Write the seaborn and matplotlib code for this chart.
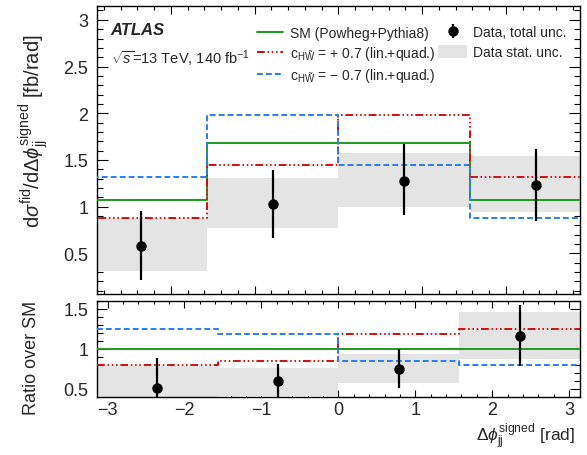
import numpy as np
import pandas as pd
import matplotlib
matplotlib.use("Agg")
import matplotlib.pyplot as plt
from matplotlib.ticker import MultipleLocator, FuncFormatter
from matplotlib.patches import Patch
import seaborn as sns

# ---------------- data ----------------
edges = [-3.1416, -1.5708, 0.0, 1.5708, 3.1416]
centers = [-2.3562, -0.7854, 0.7854, 2.3562]

sm = [1.07, 1.68, 1.68, 1.07]
c_plus = [0.88, 1.45, 1.98, 1.32]
c_minus = [1.32, 1.98, 1.45, 0.88]
data = [0.58, 1.03, 1.28, 1.23]
data_err_up = [0.37, 0.36, 0.39, 0.39]
data_err_dn = [0.36, 0.36, 0.37, 0.38]
stat_lo = [0.31, 0.77, 1.00, 0.94]
stat_hi = [0.88, 1.31, 1.57, 1.54]

r_sm = [1.0, 1.0, 1.0, 1.0]
r_plus = [0.80, 0.85, 1.18, 1.25]
r_minus = [1.24, 1.18, 0.85, 0.80]
r_data = [0.51, 0.59, 0.75, 1.16]
r_err_up = [0.37, 0.22, 0.24, 0.39]
r_err_dn = [0.36, 0.22, 0.24, 0.38]
r_stat_lo = [0.29, 0.41, 0.57, 0.87]
r_stat_hi = [0.78, 0.76, 0.93, 1.46]

# ---------------- style ----------------
sns.set_theme(style="ticks")
plt.rcParams["font.family"] = ["Liberation Sans", "DejaVu Sans"]
plt.rcParams["mathtext.fontset"] = "custom"
plt.rcParams["mathtext.rm"] = "Liberation Sans"
plt.rcParams["mathtext.it"] = "Liberation Sans:italic"
plt.rcParams["mathtext.bf"] = "Liberation Sans:bold"
plt.rcParams["axes.linewidth"] = 1.0
plt.rcParams["axes.edgecolor"] = "black"

GREEN = "#1e9a1e"
RED = "#cc1010"
BLUE = "#2a7cf0"
GRAY = "#e4e4e4"
LW = 1.4
RED_LS = (0, (4, 1.4, 0.8, 1.4, 0.8, 1.4, 0.8, 1.4))
BLUE_LS = (0, (3, 1.6))

fig = plt.figure(figsize=(5.87, 4.56), dpi=100)
ax1 = fig.add_axes([0.1647, 0.352, 0.8234, 0.632])
ax2 = fig.add_axes([0.1647, 0.1265, 0.8234, 0.2119])


def step_df(vals):
    return pd.DataFrame({"x": edges, "y": list(vals) + [vals[-1]]})


def draw_panel(ax, s, p, m, d, eu, ed, lo, hi):
    widths = [edges[i + 1] - edges[i] for i in range(len(centers))]
    ax.bar(centers, [h - l for h, l in zip(hi, lo)], bottom=lo, width=widths,
           color=GRAY, linewidth=0, zorder=1)
    sns.lineplot(data=step_df(s), x="x", y="y", ax=ax, color=GREEN, lw=LW,
                 drawstyle="steps-post", zorder=3)
    h_sm = ax.get_lines()[-1]
    sns.lineplot(data=step_df(p), x="x", y="y", ax=ax, color=RED, lw=LW,
                 drawstyle="steps-post", linestyle=RED_LS, zorder=4)
    h_p = ax.get_lines()[-1]
    sns.lineplot(data=step_df(m), x="x", y="y", ax=ax, color=BLUE, lw=LW,
                 drawstyle="steps-post", linestyle=BLUE_LS, zorder=4)
    h_m = ax.get_lines()[-1]
    h_d = ax.errorbar(centers, d, yerr=[ed, eu], fmt="o", color="black",
                      ms=6.5, elinewidth=1.6, capsize=0, zorder=5)
    return h_sm, h_p, h_m, h_d


h_sm, h_p, h_m, h_d = draw_panel(ax1, sm, c_plus, c_minus, data,
                                 data_err_up, data_err_dn, stat_lo, stat_hi)
draw_panel(ax2, r_sm, r_plus, r_minus, r_data, r_err_up, r_err_dn,
           r_stat_lo, r_stat_hi)

# ---------------- axes ----------------
ax1.set_xlim(-2.885, 2.885)
ax1.set_ylim(0.06, 3.145)
ax2.set_xlim(-3.1416, 3.1416)
ax2.set_ylim(0.39, 1.60)

fmt = FuncFormatter(lambda v, pos: ("%g" % round(v, 3)).replace("-", "\u2212"))

for ax in (ax1, ax2):
    ax.xaxis.set_major_locator(MultipleLocator(1))
    ax.xaxis.set_minor_locator(MultipleLocator(0.2))
    ax.yaxis.set_major_locator(MultipleLocator(0.5))
    ax.yaxis.set_minor_locator(MultipleLocator(0.1))
    ax.xaxis.set_major_formatter(fmt)
    ax.yaxis.set_major_formatter(fmt)
    ax.tick_params(which="both", direction="in", top=True, right=True,
                   width=0.8, labelsize=13, color="black")
    for sp in ax.spines.values():
        sp.set_visible(True)
        sp.set_color("black")

ax1.tick_params(axis="y", which="major", length=8, pad=6)
ax1.tick_params(axis="y", which="minor", length=4.5)
ax1.tick_params(axis="x", which="major", length=6)
ax1.tick_params(axis="x", which="minor", length=3)
ax1.tick_params(axis="x", labelbottom=False)
ax2.tick_params(axis="y", which="major", length=7, pad=6)
ax2.tick_params(axis="y", which="minor", length=4)
ax2.tick_params(axis="x", which="major", length=5, pad=3)
ax2.tick_params(axis="x", which="minor", length=2.5)

ax1.set_xlabel("")
ax1.set_ylabel(r"d$\sigma^{\mathrm{fid}}$/d$\Delta\phi_{\mathrm{jj}}^{\mathrm{signed}}$ [fb/rad]",
               fontsize=14.5, ha="center", va="center")
ax1.yaxis.set_label_coords(-0.13, 0.57)
ax2.set_ylabel("Ratio over SM", fontsize=13, ha="center", va="center")
ax2.yaxis.set_label_coords(-0.135, 0.42)
ax2.set_xlabel(r"$\Delta\phi_{\mathrm{jj}}^{\mathrm{signed}}$ [rad]", fontsize=12.5,
               ha="right", va="center")
ax2.xaxis.set_label_coords(0.99, -0.40)

# ---------------- annotations ----------------
ax1.text(0.029, 0.92, "ATLAS", transform=ax1.transAxes, fontsize=12,
         fontweight="bold", fontstyle="italic", va="center", ha="left")
ax1.text(0.029, 0.82, r"$\sqrt{s}$=13 TeV, 140 fb$^{-1}$", transform=ax1.transAxes,
         fontsize=10.5, va="center", ha="left")

leg1 = ax1.legend([h_sm, h_p, h_m],
                  ["SM (Powheg+Pythia8)",
                   r"c$_{\mathrm{H\tilde{W}}}$ = + 0.7 (lin.+quad.)",
                   r"c$_{\mathrm{H\tilde{W}}}$ = − 0.7 (lin.+quad.)"],
                  loc="upper left", bbox_to_anchor=(257 / 587, 1 - 27 / 456),
                  bbox_transform=fig.transFigure, frameon=False, fontsize=10,
                  handlelength=1.9, handletextpad=0.5, labelspacing=0.3,
                  borderpad=0, borderaxespad=0)
ax1.add_artist(leg1)
stat_patch = Patch(facecolor=GRAY, edgecolor="none")
ax1.legend([h_d, stat_patch], ["Data, total unc.", "Data stat. unc."],
           loc="upper left", bbox_to_anchor=(438 / 587, 1 - 26 / 456),
           bbox_transform=fig.transFigure, frameon=False, fontsize=10,
           handlelength=2.1, handleheight=1.1, handletextpad=0.45,
           labelspacing=0.4, borderpad=0, borderaxespad=0)

fig.savefig("out.png", dpi=100)
